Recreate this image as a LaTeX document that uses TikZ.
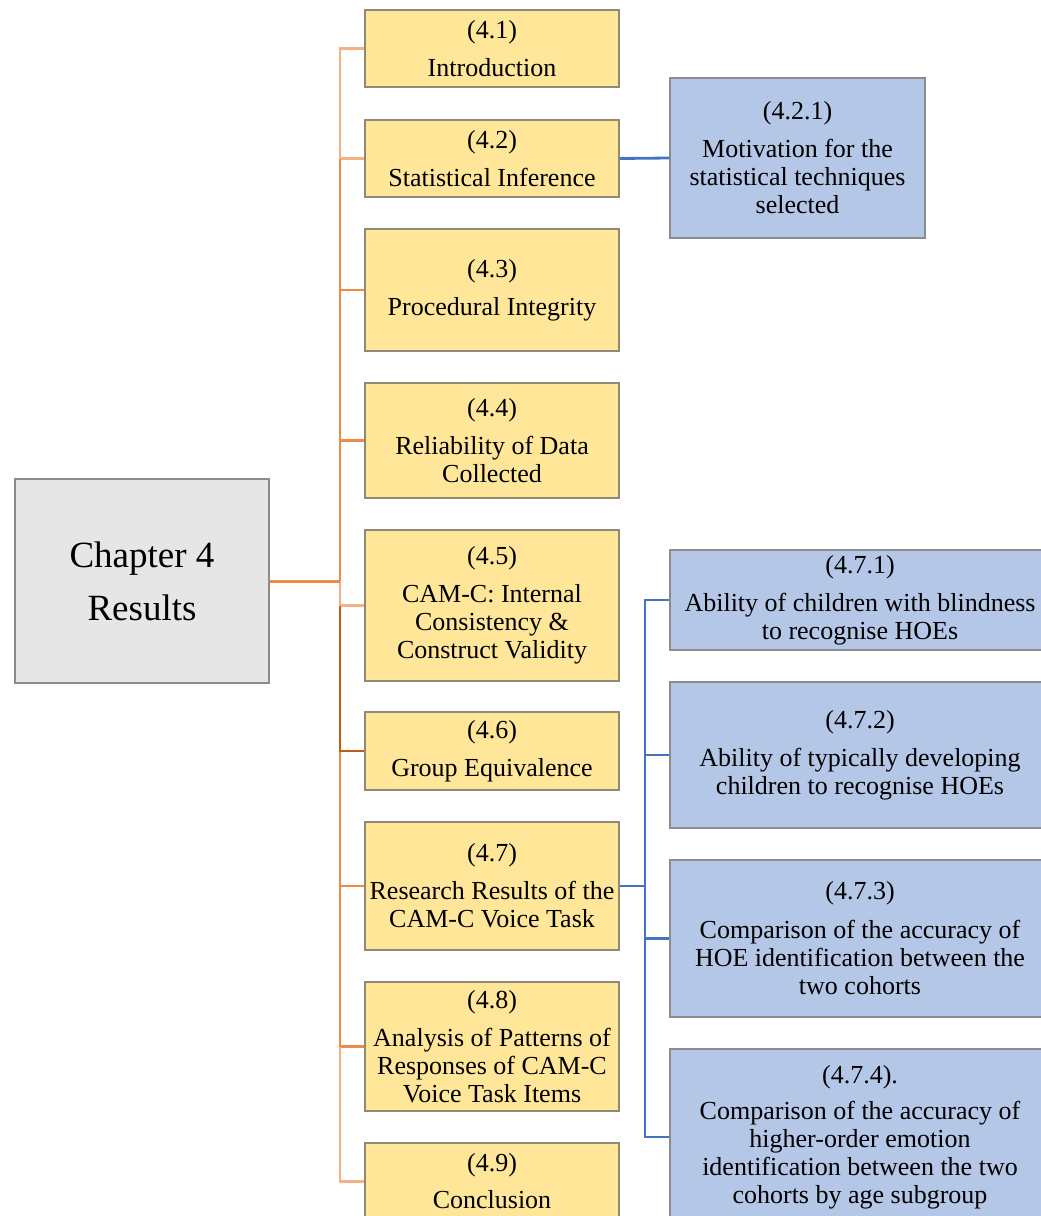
\documentclass[tikz,border=0pt]{standalone}
\usepackage{fontspec}
\setmainfont{LiberationSerif}[Extension=.ttf, UprightFont=*-Regular, BoldFont=*-Bold, ItalicFont=*-Italic, BoldItalicFont=*-BoldItalic]
\definecolor{secfill}{HTML}{FFE699}
\definecolor{secline}{HTML}{8F8A78}
\definecolor{subfill}{HTML}{B4C7E7}
\definecolor{boxline}{HTML}{8C8C8C}
\definecolor{chapfill}{HTML}{E6E6E6}
\definecolor{orLight}{HTML}{F4B183}
\definecolor{orMid}{HTML}{F08A45}
\definecolor{orDark}{HTML}{C55A11}
\definecolor{linkBlue}{HTML}{4472C4}
\tikzset{
  basebox/.style={draw, line width=1.3pt, align=center, inner sep=0pt,
    font=\rmfamily\fontsize{26}{28}\selectfont},
  secbox/.style={basebox, fill=secfill, draw=secline, minimum width=254pt},
  subbox/.style={basebox, fill=subfill, draw=boxline},
  chapbox/.style={basebox, fill=chapfill, draw=boxline, minimum width=254pt,
    minimum height=204pt, font=\rmfamily\fontsize{37}{53}\selectfont},
  lnLight/.style={draw=orLight, line width=2.2pt},
  lnMid/.style={draw=orMid, line width=2.2pt},
  lnDark/.style={draw=orDark, line width=2.8pt},
  lnBlue/.style={draw=linkBlue, line width=2.8pt},
}
\begin{document}
\begin{tikzpicture}[x=1pt,y=-1pt]
\clip (0,0) rectangle (1041,1216);
\fill[white] (0,0) rectangle (1041,1216);

% chapter box
\node[chapbox] (ch) at (142,581) {Chapter 4\\Results};

% section boxes
\node[secbox, minimum height=77pt]  (s1) at (492,48.5)  {(4.1)\\[10pt]Introduction};
\node[secbox, minimum height=77pt]  (s2) at (492,158.5) {(4.2)\\[10pt]Statistical Inference};
\node[secbox, minimum height=122pt] (s3) at (492,290)   {(4.3)\\[10pt]Procedural Integrity};
\node[secbox, minimum height=115pt] (s4) at (492,440.5) {(4.4)\\[10pt]Reliability of Data\\Collected};
\node[secbox, minimum height=151pt] (s5) at (492,605.5) {(4.5)\\[10pt]CAM-C: Internal\\Consistency \&\\Construct Validity};
\node[secbox, minimum height=78pt]  (s6) at (492,751)   {(4.6)\\[10pt]Group Equivalence};
\node[secbox, minimum height=128pt] (s7) at (492,886)   {(4.7)\\[10pt]Research Results of the\\CAM-C Voice Task};
\node[secbox, minimum height=129pt] (s8) at (492,1046.5){(4.8)\\[10pt]Analysis of Patterns of\\Responses of CAM-C\\Voice Task Items};
\node[secbox, minimum height=77pt]  (s9) at (492,1181.5){(4.9)\\[9pt]Conclusion};

% subsection boxes
\node[subbox, minimum width=255pt, minimum height=160pt] (b421) at (797.5,158)
  {(4.2.1)\\[10pt]Motivation for the\\statistical techniques\\selected};
\node[subbox, minimum width=380pt, minimum height=100pt] (b471) at (860,600)
  {(4.7.1)\\[10pt]Ability of children with blindness\\to recognise HOEs};
\node[subbox, minimum width=380pt, minimum height=146pt] (b472) at (860,755)
  {(4.7.2)\\[10pt]Ability of typically developing\\children to recognise HOEs};
\node[subbox, minimum width=380pt, minimum height=157pt] (b473) at (860,938.5)
  {(4.7.3)\\[11pt]Comparison of the accuracy of\\HOE identification between the\\two cohorts};
\node[subbox, minimum width=380pt, minimum height=176pt] (b474) at (860,1137)
  {(4.7.4).\\[8pt]Comparison of the accuracy of\\higher-order emotion\\identification between the two\\cohorts by age subgroup};

% orange tree from the chapter to its sections
\coordinate (j) at (340,581);
\foreach \i in {1,...,9} { \coordinate (t\i) at (s\i.west -| j); }
\draw[lnLight] (s1.west) -- (t1) -- (t2);
\draw[lnLight] (s2.west) -- (t2);
\draw[lnMid] (t2) -- (j);
\draw[lnMid] (s3.west) -- (t3);
\draw[lnMid] (s4.west) -- (t4);
\draw[lnMid] (t6) -- (t8);
\draw[lnMid] (s7.west) -- (t7);
\draw[lnMid] (s8.west) -- (t8);
\draw[lnLight] (t8) -- (t9) -- (s9.west);
\draw[lnLight] (j) -- (t5) -- (s5.west);
\draw[lnDark] (t5) -- (t6) -- (s6.west);
\draw[lnMid, line width=3pt] (ch.east) -- (j);

% blue links to subsections
\draw[lnBlue] (s2.east) -- (b421.west);
\coordinate (k) at (645,886);
\draw[lnBlue] (s7.east) -- (k);
\draw[lnBlue] (b471.west) -| (k);
\draw[lnBlue] (b474.west) -| (k);
\draw[lnBlue] (b472.west) -- (b472.west -| k);
\draw[lnBlue] (b473.west) -- (b473.west -| k);
\end{tikzpicture}
\end{document}
